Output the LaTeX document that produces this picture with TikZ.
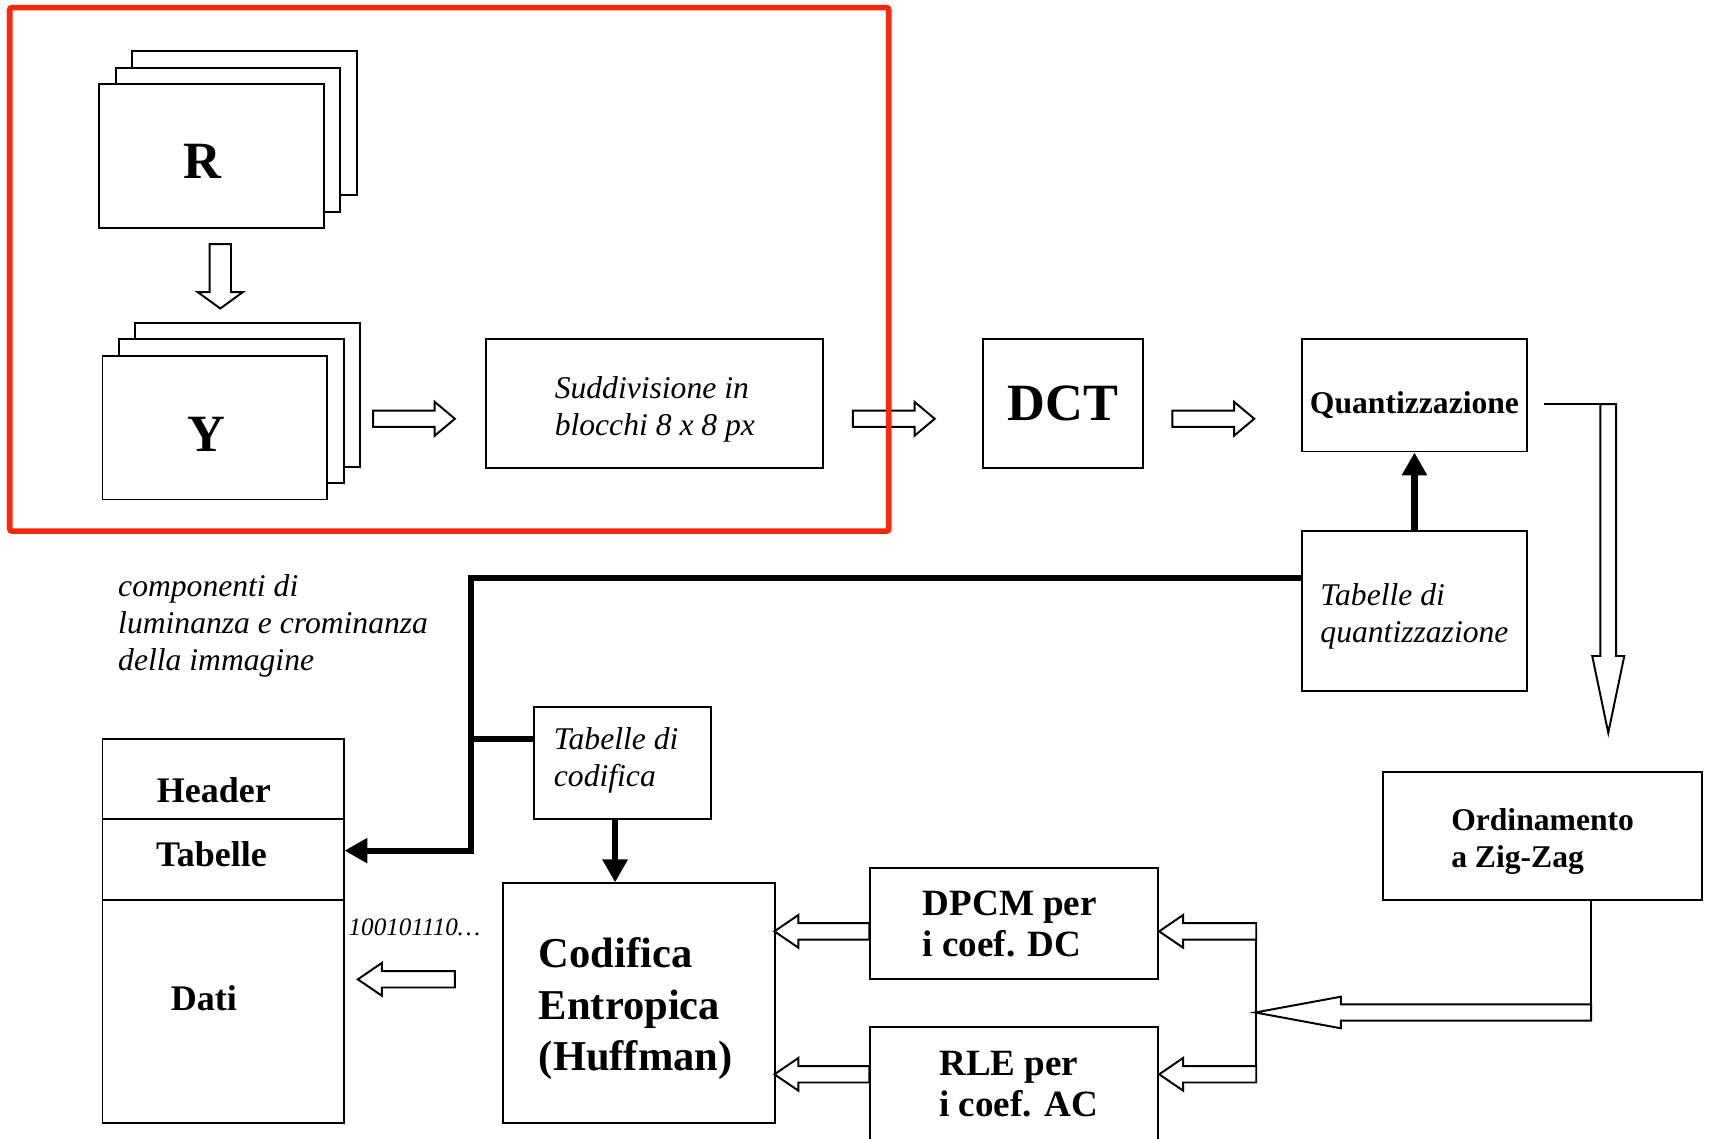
\documentclass[tikz,border=0pt]{standalone}
\usepackage{fontspec}
\setmainfont{Liberation Serif}
\usetikzlibrary{arrows.meta,calc}
\definecolor{framered}{RGB}{250,40,10}

\tikzset{
  blk/.style={draw, line width=0.9pt, fill=white},
  plain/.style={line width=0.9pt},
  heavyln/.style={line width=2.8pt},
  headtip/.style={-{Triangle[length=10.5pt,width=11pt]}},
  sheet/.style={blk, minimum width=103pt, minimum height=66pt},
  tbig/.style={font=\bfseries\fontsize{24}{28}\selectfont},
  tmed/.style={font=\bfseries\fontsize{14.5}{17}\selectfont, align=left},
  tfile/.style={font=\bfseries\fontsize{16.5}{19}\selectfont},
  tdp/.style={font=\bfseries\fontsize{17}{19}\selectfont, align=left},
  tcod/.style={font=\bfseries\fontsize{19.5}{23.5}\selectfont, align=left},
  tit/.style={font=\itshape\fontsize{14.5}{17}\selectfont, align=left},
  tbits/.style={font=\itshape\fontsize{11.5}{14}\selectfont}
}

% hollow block arrow: start, tip, shaft half, head half, head length
\newcommand{\hollow}[5]{%
  \draw[blk] let \p1=(#1), \p2=(#2),
      \n1={atan2(\y2-\y1,\x2-\x1)}, \n2={veclen(\x2-\x1,\y2-\y1)-#5} in
       ($(\p1)+(\n1+90:#3)$)
    -- ($(\p1)+(\n1:\n2)+(\n1+90:#3)$)
    -- ($(\p1)+(\n1:\n2)+(\n1+90:#4)$)
    -- (\p2)
    -- ($(\p1)+(\n1:\n2)+(\n1-90:#4)$)
    -- ($(\p1)+(\n1:\n2)+(\n1-90:#3)$)
    -- ($(\p1)+(\n1-90:#3)$) -- cycle;}

\begin{document}
\begin{tikzpicture}[x=0.5pt, y=-0.5pt, every node/.style={inner sep=0pt}]
  \useasboundingbox (0,0) rectangle (1568,1044);

  % R and Y image planes
  \foreach \k in {2,1} {
    \node[sheet] (r\k) at (194+15*\k,143-15*\k) {};
    \node[sheet] (y\k) at (197+15*\k,392-15*\k) {};
  }
  \node[sheet, label={[tbig, xshift=-4pt, yshift=-2.5pt]center:R}] (r0) at (194,143) {};
  \node[sheet, label={[tbig, xshift=-4pt, yshift=-3pt]center:Y}] (y0) at (197,392) {};
  \hollow{$(r0.south)+(4pt,-7pt)$}{$(r0.south)+(4pt,-36.5pt)$}{4.9pt}{10.3pt}{7.5pt}

  % top row
  \node[blk, minimum width=154.5pt, minimum height=59pt,
    label={[tit, yshift=-2.5pt]center:{Suddivisione in\\blocchi 8 x 8 px}}] (sudd) at (600.5,370) {};
  \node[blk, tbig, minimum width=73.5pt, minimum height=59pt] (dct) at (974.5,370) {DCT};
  \node[blk, minimum width=103pt, minimum height=51.5pt,
    label={[tmed, yshift=-4.5pt]center:Quantizzazione}] (quant) at (1297,362.5) {};
  \hollow{$(sudd.west)+(-51.5pt,-7pt)$}{$(sudd.west)+(-14pt,-7pt)$}{3.75pt}{7.75pt}{9.25pt}
  \hollow{$(dct.west)+(-59pt,-7pt)$}{$(dct.west)+(-21.5pt,-7pt)$}{3.75pt}{7.75pt}{9.25pt}
  \hollow{$(quant.west)+(-59pt,-10.75pt)$}{$(quant.west)+(-21.5pt,-10.75pt)$}{3.75pt}{7.75pt}{9.25pt}

  % tables
  \node[blk, minimum width=103pt, minimum height=73.5pt,
    label={[tit, yshift=-2.5pt]center:{Tabelle di\\quantizzazione}}] (tabq) at (1297,560.5) {};
  \node[blk, minimum width=81pt, minimum height=51.5pt,
    label={[tit, xshift=-3pt, yshift=1pt]center:{Tabelle di\\codifica}}] (tabc) at (571,699.5) {};
  \node[tit, anchor=west] (capt) at (108,574)
    {componenti di\\luminanza e crominanza\\della immagine};

  % coding blocks
  \node[blk, minimum width=146.5pt, minimum height=58.5pt,
    label={[tmed, yshift=-2.5pt]center:{Ordinamento\\a Zig-Zag}}] (zig) at (1414.5,766.5) {};
  \node[blk, minimum width=132pt, minimum height=51pt,
    label={[tdp, xshift=-2pt]center:{DPCM per\\i coef. DC}}] (dpcm) at (930,847) {};
  \node[blk, minimum width=132pt, minimum height=52pt,
    label={[tdp, xshift=2pt]center:{RLE per\\i coef. AC}}] (rle) at (930,994) {};
  \node[blk, minimum width=125pt, minimum height=110pt,
    label={[tcod, xshift=-1.5pt, yshift=-2.5pt]center:{Codifica\\Entropica\\(Huffman)}}] (cod) at (586,920) {};

  % output file
  \node[blk, minimum width=110.5pt, minimum height=36.5pt] (hdr) at (204.5,714.5) {};
  \node[blk, minimum width=110.5pt, minimum height=37pt] (tabs) at (204.5,788) {};
  \node[blk, minimum width=110.5pt, minimum height=102.5pt] (dati) at (204.5,927.5) {};
  \node[tfile] (hdrtxt) at (196,725) {Header};
  \node[tfile] (tabstxt) at (194,783) {Tabelle};
  \node[tfile] (datitxt) at (187,915) {Dati};
  \node[tbits] (bits) at (380,850) {100101110…};

  % table lines
  \draw[heavyln, headtip] (tabq) -- (quant);
  \coordinate (qin) at ([yshift=-22pt]tabq.north west);
  \coordinate (trunk) at (432,780);
  \coordinate (cin) at ([yshift=10.75pt]tabc.west);
  \draw[heavyln, headtip] (qin) -| (trunk) -- ([yshift=4pt]tabs.east);
  \draw[heavyln] (cin) -- (cin -| trunk);
  \draw[heavyln, headtip] ([xshift=-3.5pt]tabc.south) -- ([xshift=-11pt]cod.north);

  % quantizzazione -> zig-zag
  \draw[plain] ($(quant.east)+(7.5pt,-4pt)$) -- ($(quant.east)+(40.5pt,-4pt)$);
  \hollow{$(quant.east)+(36.9pt,-4pt)$}{$(quant.east)+(36.9pt,-154.75pt)$}{3.6pt}{7.35pt}{35.25pt}

  % zig-zag -> DPCM / RLE
  \draw[plain] ([xshift=22.25pt]zig.south) -- ($(zig.south)+(22.25pt,-47.5pt)$);
  \hollow{$(zig.south)+(22.25pt,-51.25pt)$}{$(zig.south)+(-131.75pt,-51.25pt)$}{3.7pt}{7.25pt}{39.3pt}
  \draw[plain] ($(dpcm.east)+(44.5pt,0)$) -- ($(rle.north east)+(44.5pt,-25.75pt)$);
  \hollow{$(dpcm.east)+(44.5pt,-3.5pt)$}{$(dpcm.east)+(0,-3.5pt)$}{3.75pt}{7.5pt}{11pt}
  \hollow{$(rle.north east)+(44.5pt,-22pt)$}{$(rle.north east)+(0,-22pt)$}{3.75pt}{7.5pt}{11pt}

  % into entropy coder and out
  \hollow{$(dpcm.west)+(0,-3.5pt)$}{$(dpcm.west)+(-43.5pt,-3.5pt)$}{3.75pt}{7.5pt}{11pt}
  \hollow{$(rle.north west)+(0,-22pt)$}{$(rle.north west)+(-43.5pt,-22pt)$}{3.75pt}{7.5pt}{11pt}
  \hollow{$(cod.west)+(-21.5pt,11pt)$}{$(cod.west)+(-66pt,11pt)$}{3.75pt}{7.5pt}{11pt}

  % frame
  \draw[framered, line width=2.6pt, rounded corners=1pt] (9,7) rectangle (815,487);
\end{tikzpicture}
\end{document}
